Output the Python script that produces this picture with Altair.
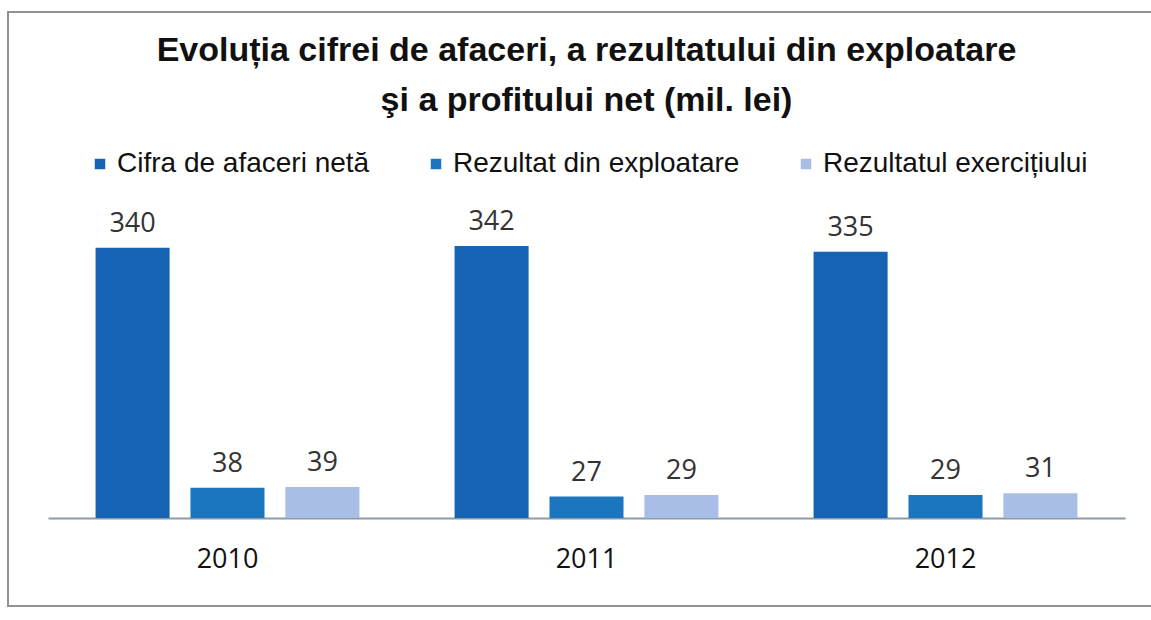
import altair as alt
import pandas as pd

years = ["2010", "2011", "2012"]
series = ["Cifra de afaceri netă", "Rezultat din exploatare", "Rezultatul exercițiului"]
cifra = [340, 342, 335]
rez_expl = [38, 27, 29]
rez_ex = [39, 29, 31]
colors = ["#1763B3", "#1C76BF", "#A8BEE6"]

rows = []
for i, y in enumerate(years):
    for s, vals in zip(series, [cifra, rez_expl, rez_ex]):
        rows.append({"an": y, "serie": s, "valoare": vals[i]})
df = pd.DataFrame(rows)

FONT = "Liberation Sans"

x = alt.X("an:N", title=None,
          scale=alt.Scale(paddingInner=0.265, paddingOuter=0.1325),
          axis=alt.Axis(labelAngle=0, labelFontSize=27, labelFont="Open Sans",
                        labelColor="#111", labelPadding=28, ticks=False,
                        domainColor="#8C9BA8", domainWidth=2))
xo = alt.XOffset("serie:N", sort=series, scale=alt.Scale(paddingInner=0.22))
y = alt.Y("valoare:Q", scale=alt.Scale(domain=[0, 400]), axis=None)

base = alt.Chart(df)

bars = base.mark_bar().encode(
    x=x, xOffset=xo, y=y,
    color=alt.Color("serie:N", sort=series,
                    scale=alt.Scale(domain=series, range=colors),
                    legend=alt.Legend(title=None, orient="none", direction="horizontal",
                                      legendX=38, legendY=-50, symbolType="square",
                                      symbolSize=110, symbolStrokeWidth=0,
                                      labelFontSize=28, labelFont=FONT, labelColor="#111",
                                      columnPadding=52, symbolOffset=0, labelOffset=3,
                                      labelLimit=400)),
)

labels = base.mark_text(dy=-24, fontSize=27, font="Open Sans", color="#333").encode(
    x=x, xOffset=xo, y=y, text="valoare:Q"
)

frame = alt.Chart(df).mark_rect(fill=None, stroke="#8E9296", strokeWidth=2).encode(
    x=alt.value(-40), x2=alt.value(1120), y=alt.value(-188), y2=alt.value(406)
).transform_filter("datum.an == '2010' && datum.serie == 'Cifra de afaceri netă'")

chart = alt.layer(frame, bars, labels).properties(
    width=1077, height=318,
    autosize=alt.AutoSizeParams(type="none"),
    padding={"left": 48, "top": 200, "right": 26, "bottom": 102},
    title=alt.TitleParams(
        ["Evoluția cifrei de afaceri, a rezultatului din exploatare",
         "şi a profitului net (mil. lei)"],
        anchor="middle", fontSize=34, font=FONT, fontWeight="bold", color="#111",
        lineHeight=50, offset=-107, frame="group"),
).configure(background="white").configure_view(stroke="transparent", strokeWidth=0)

chart.save("out.html", embed_options={"renderer": "svg", "actions": False})
